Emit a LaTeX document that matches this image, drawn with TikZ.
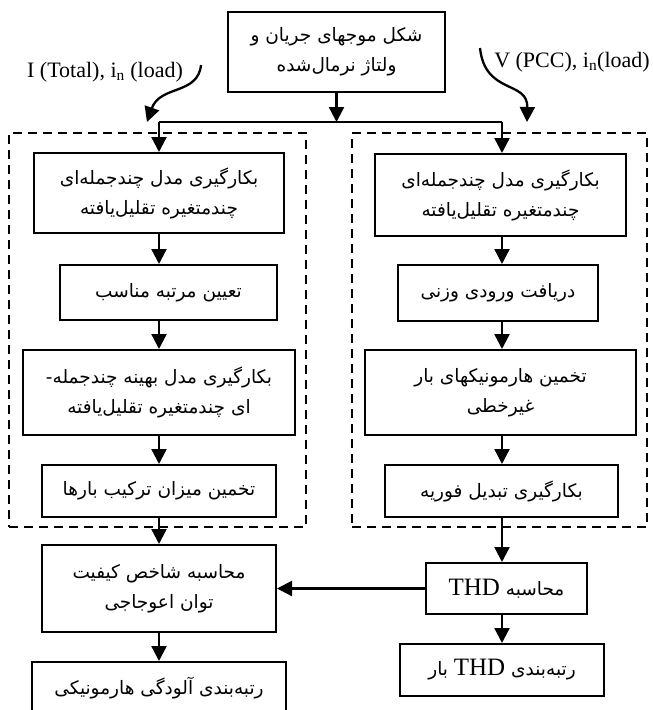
\documentclass[tikz,border=0pt]{standalone}
\usepackage{fontspec}
\setmainfont{Liberation Serif}
\newfontfamily\pfont[Script=Arabic]{DejaVu Sans}
\TeXXeTstate=1
\usetikzlibrary{arrows.meta,calc}
\newcommand{\fl}[1]{{\pfont\beginR #1\endR}}
\newcommand{\lat}[1]{\mbox{\rmfamily\fontsize{25}{30}\selectfont #1}}
\begin{document}
\begin{tikzpicture}[x=1pt,y=-1pt,
  box/.style={draw, line width=2pt, align=center, inner sep=0pt, font=\fontsize{18.5}{30}\selectfont},
  arr/.style={line width=2.3pt, -{Triangle[length=15pt,width=15pt]}},
  ln/.style={line width=2.3pt},
  grp/.style={draw, line width=2.2pt, dash pattern=on 9pt off 6pt, inner sep=0pt},
  lbl/.style={font=\fontsize{22}{26}\selectfont, inner sep=0pt}]
\useasboundingbox (0,0) rectangle (653,710);
% groups
\node[grp, minimum width=297pt, minimum height=394pt] (gl) at (157.5,330) {};
\node[grp, minimum width=295pt, minimum height=394pt] (gr) at (499.5,330) {};
% top
\node[box, minimum width=217pt, minimum height=80pt] (top) at (336.5,52) {\fl{شکل موجهای جریان و}\\\fl{ولتاژ نرمال‌شده}};
% labels
\node[lbl] (li) at (105,72) {I (Total), i\textsubscript{n} (load)};
\node[lbl] (lv) at (572,62) {V (PCC), i\textsubscript{n}(load)};
% left column
\node[box, minimum width=250pt, minimum height=80pt] (L1) at (159,193) {\fl{بکارگیری مدل چندجمله‌ای}\\\fl{چندمتغیره تقلیل‌یافته}};
\node[box, minimum width=217pt, minimum height=55pt] (L2) at (168.5,292.5) {\fl{تعیین مرتبه مناسب}};
\node[box, minimum width=272pt, minimum height=85pt] (L3) at (159,392.5) {\fl{بکارگیری مدل بهینه چندجمله-}\\\fl{ای چندمتغیره تقلیل‌یافته}};
\node[box, minimum width=234pt, minimum height=52pt] (L4) at (159,491) {\fl{تخمین میزان ترکیب بارها}};
\node[box, minimum width=234pt, minimum height=87pt] (L5) at (159,588.5) {\fl{محاسبه شاخص کیفیت}\\\fl{توان اعوجاجی}};
\node[box, minimum width=254pt, minimum height=52pt, anchor=north] (L6) at (159,661) {\fl{رتبه‌بندی آلودگی هارمونیکی}};
% right column
\node[box, minimum width=251pt, minimum height=82pt] (R1) at (500.5,195) {\fl{بکارگیری مدل چندجمله‌ای}\\\fl{چندمتغیره تقلیل‌یافته}};
\node[box, minimum width=200pt, minimum height=56pt] (R2) at (498,293) {\fl{دریافت ورودی وزنی}};
\node[box, minimum width=271pt, minimum height=85pt] (R3) at (500.5,392.5) {\fl{تخمین هارمونیکهای بار}\\\fl{غیرخطی}};
\node[box, minimum width=233pt, minimum height=52pt] (R4) at (501.5,491) {\fl{بکارگیری تبدیل فوریه}};
\node[box, minimum width=161pt, minimum height=51pt] (R5) at (506.5,588.5) {\fl{محاسبه \lat{THD}}};
\node[box, minimum width=204pt, minimum height=52pt] (R6) at (502,670) {\fl{رتبه‌بندی \lat{THD} بار}};
% distribution
\coordinate (jm) at (top.south |- 0,122);
\coordinate (jl) at (159,122);
\coordinate (jr) at (502,122);
\draw[arr] (top.south) -- (jm);
\draw[ln] (jl) -- (jr);
\draw[arr] (jl) -- (jl |- L1.north);
\draw[arr] (jr) -- (jr |- R1.north);
% left chain
\draw[arr] (jl |- L1.south) -- (jl |- L2.north);
\draw[arr] (jl |- L2.south) -- (jl |- L3.north);
\draw[arr] (jl |- L3.south) -- (jl |- L4.north);
\draw[arr] (jl |- L4.south) -- (jl |- L5.north);
\draw[arr] (jl |- L5.south) -- (jl |- L6.north);
% right chain
\draw[arr] (jr |- R1.south) -- (jr |- R2.north);
\draw[arr] (jr |- R2.south) -- (jr |- R3.north);
\draw[arr] (jr |- R3.south) -- (jr |- R4.north);
\draw[arr] (jr |- R4.south) -- (jr |- R5.north);
\draw[arr] (jr |- R5.south) -- (jr |- R6.north);
\draw[arr] (R5.west) -- (R5.west -| L5.east);
% curved input arrows
\coordinate (cls) at (201,65);
\coordinate (cle) at (147,122);
\coordinate (crs) at (480,48);
\coordinate (cre) at (527,122);
\draw[arr] (cls) .. controls (198,95) and (160,85) .. (cle);
\draw[arr] (crs) .. controls (485,95) and (528,80) .. (cre);
\end{tikzpicture}
\end{document}
